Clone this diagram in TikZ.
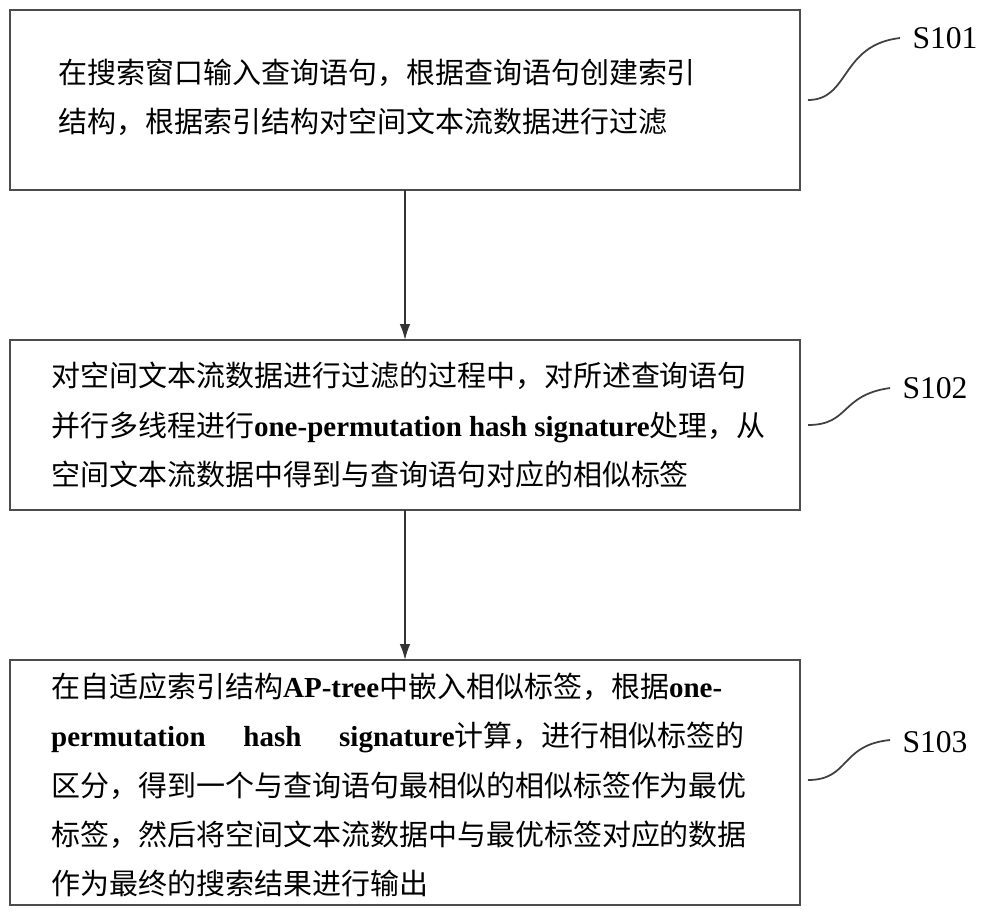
\documentclass[tikz,border=0pt]{standalone}
\usepackage{fontspec}
\setmainfont{Liberation Serif}
\newfontfamily\cjk{Noto Sans CJK SC}
\newcommand\lat[1]{{\rmfamily\bfseries #1}}
\usetikzlibrary{arrows.meta}
\begin{document}
\begin{tikzpicture}[x=0.02cm,y=-0.02cm]
  \tikzset{stepbox/.style={draw=black!70, line width=0.8pt, inner sep=0pt},
           steptext/.style={align=left, font=\cjk\fontsize{16.5}{28}\selectfont},
           flow/.style={draw=black!80, line width=1pt, -{Latex[length=9pt,width=6pt]}},
           wave/.style={draw=black!75, line width=1pt}}
  \useasboundingbox (0,0) rectangle (1000,919);
  % boxes
  \draw [stepbox] (10,10) rectangle (800,190);
  \draw [stepbox] (10,340) rectangle (800,510);
  \draw [stepbox] (10,660) rectangle (800,905);
  \coordinate (b1s) at (405,190);
  \coordinate (b2n) at (405,340);
  \coordinate (b2s) at (405,510);
  \coordinate (b3n) at (405,660);
  % texts
  \node [steptext, anchor=west] (t1) at (52,97) {在搜索窗口输入查询语句，根据查询语句创建索引\\结构，根据索引结构对空间文本流数据进行过滤};
  \node [steptext, anchor=west] (t2) at (45,425) {对空间文本流数据进行过滤的过程中，对所述查询语句\\并行多线程进行\lat{one-permutation hash signature}处理，从\\空间文本流数据中得到与查询语句对应的相似标签};
  \node [steptext, anchor=west] (t3) at (45,785) {在自适应索引结构\lat{AP-tree}中嵌入相似标签，根据\lat{one-}\\\lat{permutation\hspace{1.3em}hash\hspace{1.3em}signature}计算，进行相似标签的\\区分，得到一个与查询语句最相似的相似标签作为最优\\标签，然后将空间文本流数据中与最优标签对应的数据\\作为最终的搜索结果进行输出};
  % arrows
  \draw [flow] (b1s) -- (b2n);
  \draw [flow] (b2s) -- (b3n);
  % labels
  \node [font=\fontsize{18}{20}\selectfont] (s1) at (945,38) {S101};
  \node [font=\fontsize{18}{20}\selectfont] (s2) at (935,388) {S102};
  \node [font=\fontsize{18}{20}\selectfont] (s3) at (935,742) {S103};
  \draw [wave] (808,100) .. controls (850,100) and (840,45) .. (900,38);
  \draw [wave] (808,425) .. controls (850,425) and (840,395) .. (890,388);
  \draw [wave] (808,780) .. controls (850,780) and (840,745) .. (890,740);
\end{tikzpicture}
\end{document}
